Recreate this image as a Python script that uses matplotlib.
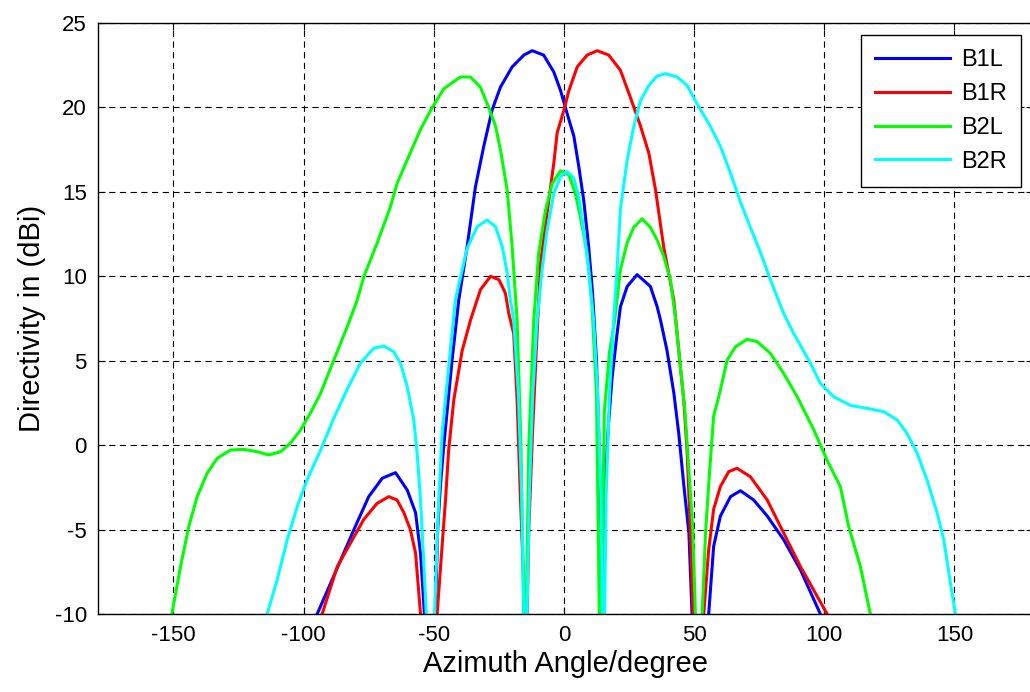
import numpy as np
import matplotlib
matplotlib.use("Agg")
import matplotlib.pyplot as plt

plt.rcParams['font.family'] = ['Liberation Sans', 'DejaVu Sans']
plt.rcParams['lines.scale_dashes'] = False
plt.rcParams['axes.unicode_minus'] = False

# B1L (blue)
b1l_x = [-96, -94.8, -89.7, -85.2, -80.1, -75, -69.8, -64.7, -60.2, -57, -55.1, -53.6, -51.5,
         -49.4, -48.5, -47.5, -46.2, -43, -40.4, -37.2, -34, -30.8, -27.6, -24.4, -19.9, -15.4,
         -12.2, -7.8, -3.9, -1.3, 1.2, 3.8, 5.7, 7.6, 9.5, 11, 12.5, 13.5, 14.3, 14.8, 15.2, 16,
         17, 18.5, 20.4, 21.7, 24.3, 28.1, 33.2, 35.8, 37.1, 39.6, 42.2, 44.1, 46, 48, 49.2, 52.5,
         55.6, 57.5, 60.1, 64, 67.8, 72.9, 78.1, 84.4, 90.9, 98.5, 100]
b1l_y = [-11, -10, -8.2, -6.6, -4.8, -3.05, -1.96, -1.63, -2.66, -4.0, -6.4, -10, -15,
         -10, -5, -2.5, -0.1, 5.0, 8.6, 11.75, 15.3, 17.7, 19.85, 21.2, 22.4, 23.1,
         23.36, 23.1, 22.1, 21.0, 19.65, 18.3, 16.5, 14.5, 11.75, 9, 5, 0, -5, -15, -5, -2,
         1, 4, 6.6, 8.2, 9.4, 10.1, 9.4, 8.2, 7.4, 5.6, 3.1, 0.7, -2.3, -5.2, -10, -15,
         -10, -6.0, -4.2, -3.05, -2.7, -3.25, -4.2, -5.6, -7.4, -10, -11]

# B1R (red)
b1r_x = [-94, -92.9, -87.1, -82, -76.9, -71.8, -67.3, -64.1, -61.5, -59, -57, -55.1, -52,
         -48.7, -47.4, -45.5, -44.3, -42.3, -39.1, -35.9, -32.1, -28.2, -25, -22.5, -21.2, -19.3,
         -18, -16.7, -15.5, -14.8, -13.5, -12, -10.5, -9, -6.5, -3.9, -2.6, 0, 1.9, 5.1, 8.9,
         12.8, 17.2, 21.7, 25.5, 29.4, 32.6, 35.2, 38.3, 42.2, 44.1, 46, 47.3, 48.6, 49.6, 51.5,
         53.7, 55.6, 57.5, 60.1, 63.3, 66.5, 71.6, 78.1, 84.4, 90.9, 101.1, 103]
b1r_y = [-11, -10, -7.2, -5.8, -4.4, -3.45, -3.05, -3.25, -4.0, -5.0, -6.4, -10, -15,
         -10, -7.2, -3.25, -0.3, 2.7, 5.6, 7.4, 9.2, 10.0, 9.8, 9.0, 7.8, 6.6,
         2.7, -3.2, -8, -15, -5, 1, 6, 10.8, 13.7, 16.7, 18.5, 19.85, 21.0, 22.4, 23.1,
         23.36, 23.1, 22.2, 20.6, 18.9, 17.3, 15.1, 11.75, 8.6, 5.6, 2.7, -0.3, -5.2, -10, -15,
         -10, -6.2, -3.8, -2.45, -1.57, -1.37, -1.87, -3.25, -5.2, -7.2, -10, -11]

# B2L (green)
b2l_x = [-152, -150.5, -147.3, -144.1, -140.9, -137.1, -133.2, -128.1, -123, -117.9, -113.4,
         -108.9, -105.1, -101.2, -97.4, -93.5, -88.4, -83.3, -79.4, -76.9, -71.8, -66.7, -64.1,
         -60.2, -55.1, -50.6, -46.2, -39.8, -35.9, -32.1, -28.9, -26.3, -24.4, -21.8, -19.9, -18,
         -16.5, -15, -13.5, -11.6, -9.7, -7.1, -4.5, -1.3, 1.9, 4.4, 6.3, 8.9, 10.8, 12.5, 14.0,
         15.5, 17.5, 19.5, 21.7, 24.3, 26.8, 30, 33.2, 35.8, 38.3, 40.9, 42.8, 44.5, 46.5, 48,
         49.5, 50.5, 52, 53.1, 54.4, 55.6, 57.5, 60.1, 62.7, 65.9, 70.4, 74.2, 79.3, 84.4, 89.6,
         96, 101.1, 106.2, 109.4, 113.9, 117.7, 119]
b2l_y = [-11, -9.9, -7.2, -4.8, -3.05, -1.67, -0.78, -0.29, -0.25, -0.39, -0.58,
         -0.39, 0.11, 0.9, 1.9, 3.07, 5.04, 7.0, 8.6, 9.98, 11.95, 14.1, 15.5,
         16.9, 18.7, 20.0, 21.1, 21.8, 21.8, 21.2, 20.0, 18.9, 17.5, 15.1, 11.75, 7.4,
         0, -15, 0, 7.4, 11.4, 13.9, 15.5, 16.25, 16.0, 14.9, 13.5, 11.4, 8.2, 3, -15,
         2, 5.5, 7.4, 10.4, 12.0, 12.9, 13.4, 12.9, 12.15, 11.2, 9.8, 7.6, 5.0, 2.0, -1.5,
         -5.0, -10, -15, -10, -5.2, -2.3, 1.7, 3.27, 5.04, 5.83, 6.27, 6.13, 5.44, 4.25, 2.87,
         0.9, -0.9, -2.46, -4.83, -7.2, -10, -11]

# B2R (cyan)
b2r_x = [-116, -114, -110.2, -106.3, -102.5, -98.7, -93.5, -88.4, -83.3, -78.2, -73.1, -69.2,
         -65.4, -62.8, -60.2, -57.7, -56.4, -55.1, -53.9, -52.9, -51.3, -49.7, -48.1, -46.8,
         -44.9, -43, -41.7, -37.2, -33.3, -29.5, -26.3, -23.7, -21.8, -20.6, -19.3, -17.5, -16.2,
         -14.8, -13.3, -12, -10.3, -8.4, -6.5, -3.9, -1.3, 1.2, 3.8, 5.7, 7.6, 9.5, 11.4, 13,
         14.2, 15.2, 16.2, 17.5, 19.1, 20.4, 21.7, 24.3, 26.8, 29.4, 32.6, 35.8, 39, 43.5, 47.3,
         51.2, 56.3, 60.1, 64, 67.8, 71.6, 75.5, 79.3, 84.4, 88.3, 94.7, 98.5, 103.6, 110.1,
         116.5, 122.9, 128, 131.8, 135.7, 139.5, 143.4, 145.9, 148.5, 150.4, 152]
b2r_y = [-11, -10, -7.99, -5.6, -3.65, -2.06, -0.3, 1.6, 3.3, 4.85, 5.74, 5.87,
         5.53, 4.85, 3.46, 1.5, -0.48, -3.25, -6.8, -10, -15, -10, -3.25, 0.7,
         3.66, 6.6, 8.6, 11.66, 12.94, 13.33, 12.94, 11.75, 10.2, 8.6, 7.4, 3, -3,
         -15, -3, 3, 7.4, 10.4, 12.7, 14.9, 15.9, 16.2, 15.8, 14.7, 12.7, 10.4, 7.4, 3,
         -3, -15, -3, 3, 7.4, 10.4, 14.0, 16.9, 18.86, 20.4, 21.3, 21.86, 22.0, 21.8, 21.3,
         20.2, 18.86, 17.7, 16.1, 14.4, 12.9, 11.4, 9.8, 7.8, 6.6, 4.85, 3.66, 2.87, 2.35,
         2.18, 1.98, 1.49, 0.7, -0.48, -2.06, -4.04, -5.6, -8.2, -10, -11]

series = [("B1L", b1l_x, b1l_y, "#0000ff"),
          ("B1R", b1r_x, b1r_y, "#ff0000"),
          ("B2L", b2l_x, b2l_y, "#00ff00"),
          ("B2R", b2r_x, b2r_y, "#00ffff")]

x_ticks = [-150, -100, -50, 0, 50, 100, 150]
y_ticks = [-10, -5, 0, 5, 10, 15, 20, 25]

W, H = 1030, 692
fig = plt.figure(figsize=(W / 100, H / 100), dpi=100)
# axes: left spine at px 98, top at 23, bottom at 614 (right side runs off the picture)
ax = fig.add_axes([98 / W, (H - 614) / H, 934.5 / W, 591 / H])

for name, xs, ys, col in series:
    ax.plot(xs, ys, color=col, lw=2.2, label=name, solid_joinstyle='round')

ax.set_xlim(-179, 180)
ax.set_ylim(-10, 25)
ax.set_xticks(x_ticks)
ax.set_yticks(y_ticks)
ax.grid(True, color='black', lw=0.8, linestyle=(0, (4.5, 3.2)))
ax.set_axisbelow(True)
ax.tick_params(direction='in', length=5, width=0.8, top=True, right=True,
               labelsize=16, pad=8)
for sp in ax.spines.values():
    sp.set_linewidth(1.0)

ax.set_xlabel("Azimuth Angle/degree", fontsize=21, labelpad=3)
ax.set_ylabel("Directivity in (dBi)", fontsize=21, labelpad=6)

leg = ax.legend(loc='upper right', bbox_to_anchor=(1021 / W, 1 - 35 / H),
                bbox_transform=fig.transFigure, borderaxespad=0, fontsize=17,
                fancybox=False, framealpha=1, edgecolor='black',
                handlelength=3.2, handletextpad=0.45, labelspacing=0.5,
                borderpad=0.6)
leg.get_frame().set_linewidth(1.0)

fig.savefig("out.png", dpi=100)
